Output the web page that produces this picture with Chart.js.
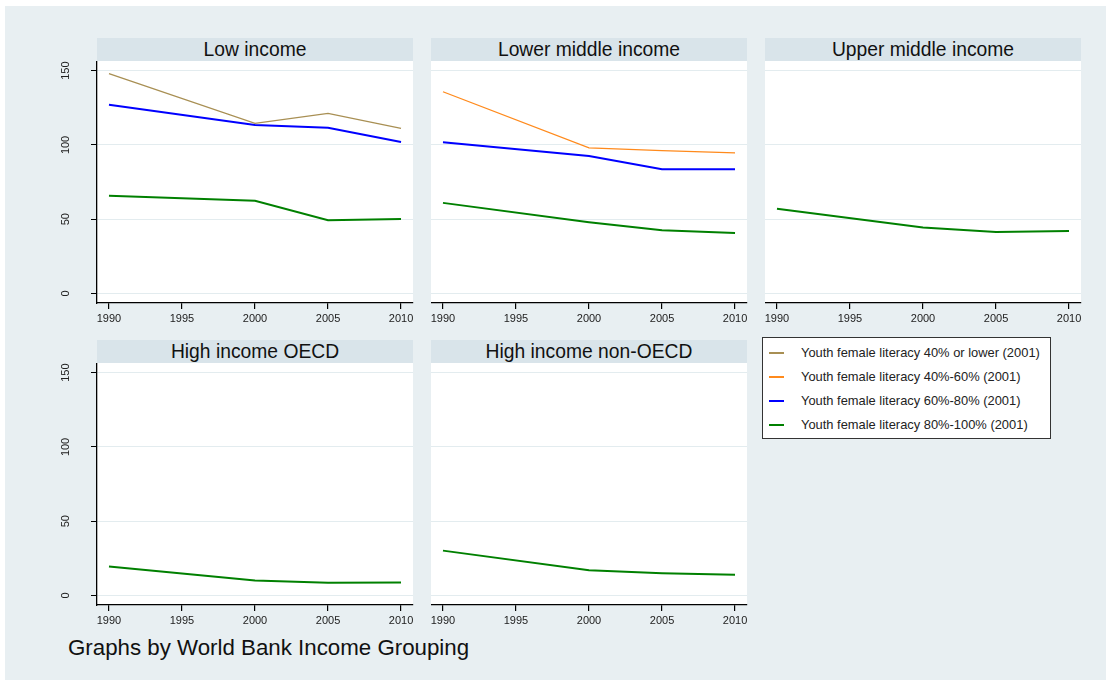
<!DOCTYPE html>
<html>
<head>
<meta charset="utf-8">
<script src="https://cdn.jsdelivr.net/npm/chart.js@4.4.0/dist/chart.umd.min.js"></script>
<style>
body { margin: 0; background: #fff; font-family: "Liberation Sans", Arial, sans-serif; }
#fondo { position: absolute; left: 5px; top: 6px; width: 1101px; height: 674px; background: #e8eff2; }
.cabecera { position: absolute; width: 316px; height: 23px; background: #d9e4ea; color: #111;
  font-size: 19.3px; line-height: 23px; text-align: center; white-space: nowrap; }
canvas { position: absolute; }
#leyenda { position: absolute; left: 762px; top: 337px; width: 287px; height: 100px;
  border: 1.5px solid #333; background: #fff; }
.fila { position: absolute; left: 0; height: 16px; width: 285px; }
.muestra { position: absolute; left: 6px; top: 7px; width: 15px; height: 2px; }
.texto { position: absolute; left: 38px; top: 0; font-size: 12.9px; line-height: 16px; color: #222; white-space: nowrap; }
#pie { position: absolute; left: 68px; top: 637px; font-size: 22.3px; line-height: 22px; color: #111; white-space: nowrap; }
</style>
</head>
<body>
<div id="fondo"></div>

<div class="cabecera" style="left:97px; top:38px;">Low income</div>
<div class="cabecera" style="left:431px; top:38px;">Lower middle income</div>
<div class="cabecera" style="left:765px; top:38px;">Upper middle income</div>
<div class="cabecera" style="left:97px; top:340px;">High income OECD</div>
<div class="cabecera" style="left:431px; top:340px;">High income non-OECD</div>

<canvas id="g1" width="365" height="272" style="left:52px; top:61px;"></canvas>
<canvas id="g2" width="320" height="272" style="left:431px; top:61px;"></canvas>
<canvas id="g3" width="320" height="272" style="left:765px; top:61px;"></canvas>
<canvas id="g4" width="365" height="272" style="left:52px; top:363px;"></canvas>
<canvas id="g5" width="320" height="272" style="left:431px; top:363px;"></canvas>

<div id="leyenda"></div>
<div id="pie">Graphs by World Bank Income Grouping</div>

<script>
// años con dato y marcas de los ejes
var anios = [1990, 2000, 2005, 2010];
var marcasX = [1990, 1995, 2000, 2005, 2010];
var marcasY = [0, 50, 100, 150];

// una serie por grupo de alfabetización femenina juvenil
var nombresSerie = [
    'Youth female literacy 40% or lower (2001)',
    'Youth female literacy 40%-60% (2001)',
    'Youth female literacy 60%-80% (2001)',
    'Youth female literacy 80%-100% (2001)'
];
var colores = ['#a88f53', '#ff8a1c', '#0000ff', '#008000'];
var grosores = [1.3, 1.3, 2, 2];

// Low income
var bajo40 = [148, 114.5, 121.3, 111.2];
var bajo60a80 = [127, 113.5, 111.6, 102];
var bajo80a100 = [65.8, 62.4, 49.3, 50.2];
// Lower middle income
var medioBajo40a60 = [135.8, 98, 96.2, 94.6];
var medioBajo60a80 = [101.8, 92.6, 83.6, 83.6];
var medioBajo80a100 = [61, 48, 42.6, 40.8];
// Upper middle income
var medioAlto80a100 = [57, 44.4, 41.4, 42.1];
// High income OECD / non-OECD
var altoOcde80a100 = [19.5, 10.1, 8.5, 8.7];
var altoNoOcde80a100 = [30.2, 17, 15, 13.9];

var ANCHO_EJE_Y = 45;

function puntos(valores) {
    return anios.map(function (a, i) { return { x: a, y: valores[i] }; });
}

function serie(indice, valores) {
    return {
        label: nombresSerie[indice],
        data: puntos(valores),
        borderColor: colores[indice],
        borderWidth: grosores[indice],
        pointRadius: 0,
        tension: 0,
        fill: false
    };
}

// fondo blanco solo dentro del área del gráfico
var fondoBlanco = {
    id: 'fondoBlanco',
    beforeDraw: function (chart) {
        var a = chart.chartArea;
        chart.ctx.save();
        chart.ctx.fillStyle = '#fff';
        chart.ctx.fillRect(a.left, a.top, a.right - a.left, a.bottom - a.top);
        chart.ctx.restore();
    }
};

function crearPanel(id, conEjeY, datasets) {
    var fuente = { family: '"Liberation Sans", Arial, sans-serif', size: 11 };
    return new Chart(document.getElementById(id).getContext('2d'), {
        type: 'line',
        data: { datasets: datasets },
        plugins: [fondoBlanco],
        options: {
            responsive: false,
            animation: false,
            layout: { padding: { left: 0, top: 0, right: 4, bottom: 0 } },
            plugins: { legend: { display: false }, tooltip: { enabled: false } },
            scales: {
                x: {
                    type: 'linear',
                    min: 1989.18,
                    max: 2010.82,
                    afterBuildTicks: function (s) {
                        s.ticks = marcasX.map(function (v) { return { value: v }; });
                    },
                    afterFit: function (s) {
                        s.height = 30;
                        s.paddingLeft = 0;
                        s.paddingRight = 0;
                    },
                    border: { display: true, color: '#000', width: 1.3 },
                    grid: { drawOnChartArea: false, drawTicks: true, tickLength: 6, tickColor: '#000', lineWidth: 1.2 },
                    ticks: {
                        color: '#222', font: fuente, padding: 3, maxRotation: 0, minRotation: 0,
                        callback: function (v) { return String(v); }
                    }
                },
                y: {
                    type: 'linear',
                    min: -6.4,
                    max: 156.5,
                    afterBuildTicks: function (s) {
                        s.ticks = marcasY.map(function (v) { return { value: v }; });
                    },
                    afterFit: function (s) {
                        s.width = conEjeY ? ANCHO_EJE_Y : 0;
                        s.paddingTop = 0;
                        s.paddingBottom = 0;
                    },
                    border: { display: conEjeY, color: '#000', width: 1.3 },
                    grid: { color: '#e3ecef', lineWidth: 1, drawTicks: conEjeY, tickLength: 6, tickColor: '#000' },
                    ticks: {
                        display: conEjeY, color: '#222', font: fuente,
                        minRotation: 90, maxRotation: 90, crossAlign: 'center', padding: 16,
                        callback: function (v) { return String(v); }
                    }
                }
            }
        }
    });
}

crearPanel('g1', true, [serie(0, bajo40), serie(2, bajo60a80), serie(3, bajo80a100)]);
crearPanel('g2', false, [serie(1, medioBajo40a60), serie(2, medioBajo60a80), serie(3, medioBajo80a100)]);
crearPanel('g3', false, [serie(3, medioAlto80a100)]);
crearPanel('g4', true, [serie(3, altoOcde80a100)]);
crearPanel('g5', false, [serie(3, altoNoOcde80a100)]);

// leyenda común
var leyenda = document.getElementById('leyenda');
nombresSerie.forEach(function (nombre, i) {
    var fila = document.createElement('div');
    fila.className = 'fila';
    fila.style.top = (7 + i * 24) + 'px';
    fila.innerHTML = '<div class="muestra" style="background:' + colores[i] + '"></div>' +
        '<div class="texto">' + nombre + '</div>';
    leyenda.appendChild(fila);
});
</script>
</body>
</html>
